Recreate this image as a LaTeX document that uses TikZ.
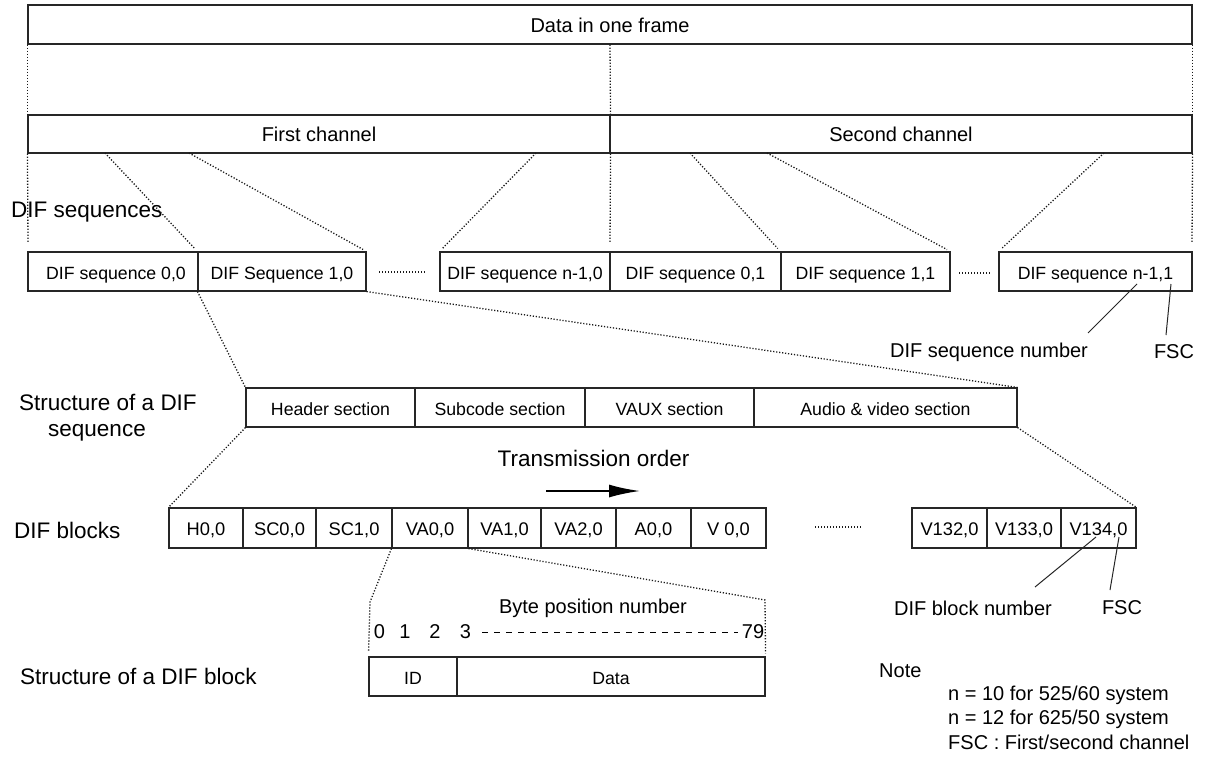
\documentclass[tikz,border=0pt]{standalone}
\usepackage{fontspec}
\setmainfont{Liberation Sans}
\usetikzlibrary{arrows.meta}
\begin{document}
\begin{tikzpicture}[x=1pt,y=-1pt,
  cell/.style={draw=black!85, line width=1.1pt, rectangle, inner sep=0pt, minimum height=39pt, text height=15pt, text depth=0pt, font=\fontsize{17.7pt}{20pt}\selectfont},
  chan/.style={cell, text height=15pt, font=\fontsize{20pt}{22pt}\selectfont},
  blk/.style={cell, minimum height=40pt, font=\fontsize{18.3pt}{20pt}\selectfont},
  big/.style={inner sep=0pt, font=\fontsize{22.5pt}{25pt}\selectfont},
  ann/.style={inner sep=0pt, font=\fontsize{20pt}{22pt}\selectfont},
  guide/.style={line width=1.3pt, dash pattern=on 1.2pt off 1.8pt, black!90},
  pointer/.style={line width=1pt, black!85}]
\fill[white] (0,0) rectangle (1208,756);
\useasboundingbox (0,0) rectangle (1208,756);

% top frame and channels
\node[chan, minimum width=1164pt] (frame) at (610,24.5) {Data in one frame};
\node[chan, minimum width=582pt, minimum height=38pt] (ch1) at (319,134) {First channel};
\node[chan, minimum width=582pt, minimum height=38pt] (ch2) at (901,134) {Second channel};

% DIF sequences
\node[cell, minimum width=170pt] (s00) at (113,271.5) {\hspace{6pt}DIF sequence 0,0};
\node[cell, minimum width=168pt] (s10) at (282,271.5) {DIF Sequence 1,0};
\node[cell, minimum width=170pt] (sn0) at (525,271.5) {DIF sequence n-1,0};
\node[cell, minimum width=171pt] (s01) at (695.5,271.5) {DIF sequence 0,1};
\node[cell, minimum width=169pt] (s11) at (865.5,271.5) {DIF sequence 1,1};
\node[cell, minimum width=193pt] (sn1) at (1095.5,271.5) {DIF sequence n-1,1};
\node[big, anchor=west] (lseq) at (11,212) {DIF sequences};

% vertical guides
\coordinate (vL1) at (28,243); \coordinate (vM1) at (610,243); \coordinate (vR1) at (1192,243);
\draw[guide] (frame.south west) -- (ch1.north west);
\draw[guide] (frame.south) -- (ch1.north east);
\draw[guide] (frame.south east) -- (ch2.north east);
\draw[guide] (ch1.south west) -- (vL1);
\draw[guide] (ch1.south east) -- (vM1);
\draw[guide] (ch2.south east) -- (vR1);

% channel expansion guides
\coordinate (a1) at (105,153); \coordinate (a2) at (189,153); \coordinate (a3) at (536,153);
\coordinate (b1) at (690,153); \coordinate (b2) at (767,153); \coordinate (b3) at (1104,153);
\draw[guide, shorten >=4pt] (a1) -- (s10.north west);
\draw[guide, shorten >=4pt] (a2) -- (s10.north east);
\draw[guide, shorten >=4pt] (a3) -- (sn0.north west);
\draw[guide, shorten >=4pt] (b1) -- (s11.north west);
\draw[guide, shorten >=4pt] (b2) -- (s11.north east);
\draw[guide, shorten >=4pt] (b3) -- (sn1.north west);

% dots between sequences
\coordinate (d1a) at (379,272); \coordinate (d1b) at (425,272);
\coordinate (d2a) at (959,273); \coordinate (d2b) at (991,273);
\draw[guide] (d1a) -- (d1b);
\draw[guide] (d2a) -- (d2b);

% sequence number annotation
\node[ann] (seqnum) at (989,352) {DIF sequence number};
\node[ann] (fsc1) at (1174,352) {FSC};
\coordinate (p1) at (1137,284); \coordinate (p1e) at (1088,333);
\coordinate (p2) at (1171,284); \coordinate (p2e) at (1166,335);
\draw[pointer] (p1) -- (p1e);
\draw[pointer] (p2) -- (p2e);

% structure of a DIF sequence
\node[big, anchor=west] (lstr1) at (19,402) {Structure of a DIF};
\node[big] (lstr2) at (97,433) {sequence};
\node[cell, minimum width=169pt] (hdr) at (330.5,407.5) {Header section};
\node[cell, minimum width=170pt] (sub) at (500,407.5) {Subcode section};
\node[cell, minimum width=169pt] (vaux) at (669.5,407.5) {VAUX section};
\node[cell, minimum width=263pt] (av) at (885.5,407.5) {Audio \& video section};
\draw[guide] (s10.south west) -- (hdr.north west);
\draw[guide] (s10.south east) -- (av.north east);

% transmission order
\node[big] (tord) at (593.5,458) {Transmission order};
\coordinate (arS) at (546,491); \coordinate (arE) at (640,491);
\draw[line width=2pt, -{Latex[length=31pt,width=13pt]}] (arS) -- (arE);

% DIF blocks
\node[big, anchor=west] (lblk) at (14,530) {DIF blocks};
\node[blk, minimum width=74pt] (h00) at (206,528) {H0,0};
\node[blk, minimum width=73pt] (sc00) at (279.5,528) {SC0,0};
\node[blk, minimum width=76pt] (sc10) at (354,528) {SC1,0};
\node[blk, minimum width=76pt] (va00) at (430,528) {VA0,0};
\node[blk, minimum width=73pt] (va10) at (504.5,528) {VA1,0};
\node[blk, minimum width=75pt] (va20) at (578.5,528) {VA2,0};
\node[blk, minimum width=75pt] (a00) at (653.5,528) {A0,0};
\node[blk, minimum width=75pt] (v00) at (728.5,528) {V 0,0};
\node[blk, minimum width=75pt] (v132) at (949.5,528) {V132,0};
\node[blk, minimum width=74pt] (v133) at (1024,528) {V133,0};
\node[blk, minimum width=75pt] (v134) at (1098.5,528) {V134,0};
\coordinate (d3a) at (815,527); \coordinate (d3b) at (862,527);
\draw[guide] (d3a) -- (d3b);
\draw[guide] (hdr.south west) -- (h00.north west);
\draw[guide] (av.south east) -- (v134.north east);

% block number annotation
\node[ann] (blknum) at (973,608) {DIF block number};
\node[ann] (fsc2) at (1122,608) {FSC};
\coordinate (q1) at (1096,537); \coordinate (q1e) at (1035,587);
\coordinate (q2) at (1119,537); \coordinate (q2e) at (1110,590);
\draw[pointer] (q1) -- (q1e);
\draw[pointer] (q2) -- (q2e);

% structure of a DIF block
\node[big, anchor=west] (lblock) at (20,676.5) {Structure of a DIF block};
\node[ann] (bpn) at (593,608) {Byte position number};
\node[ann] (n0) at (379.5,632) {0};
\node[ann] (n1) at (405,632) {1};
\node[ann] (n2) at (435,632) {2};
\node[ann] (n3) at (465.5,632) {3};
\node[ann] (n79) at (753,632) {79};
\coordinate (dashA) at (482,632); \coordinate (dashB) at (738,632);
\draw[line width=1pt, dash pattern=on 5.5pt off 6.5pt] (dashA) -- (dashB);
\node[cell, minimum width=88pt] (idc) at (413,676.5) {ID};
\node[cell, minimum width=308pt] (datac) at (611,676.5) {Data};
\coordinate (k1) at (370,602); \coordinate (k2) at (765,600);
\draw[guide, shorten >=5pt] (va00.south west) -- (k1) -- (idc.north west);
\draw[guide, shorten >=3pt] (va00.south east) -- (k2) -- (datac.north east);

% note
\node[ann, anchor=west] (note) at (879,671) {Note};
\node[ann, anchor=west] (nt1) at (948,695) {n = 10 for 525/60 system};
\node[ann, anchor=west] (nt2) at (948,719) {n = 12 for 625/50 system};
\node[ann, anchor=west] (nt3) at (948,742) {FSC : First/second channel};
\end{tikzpicture}
\end{document}
